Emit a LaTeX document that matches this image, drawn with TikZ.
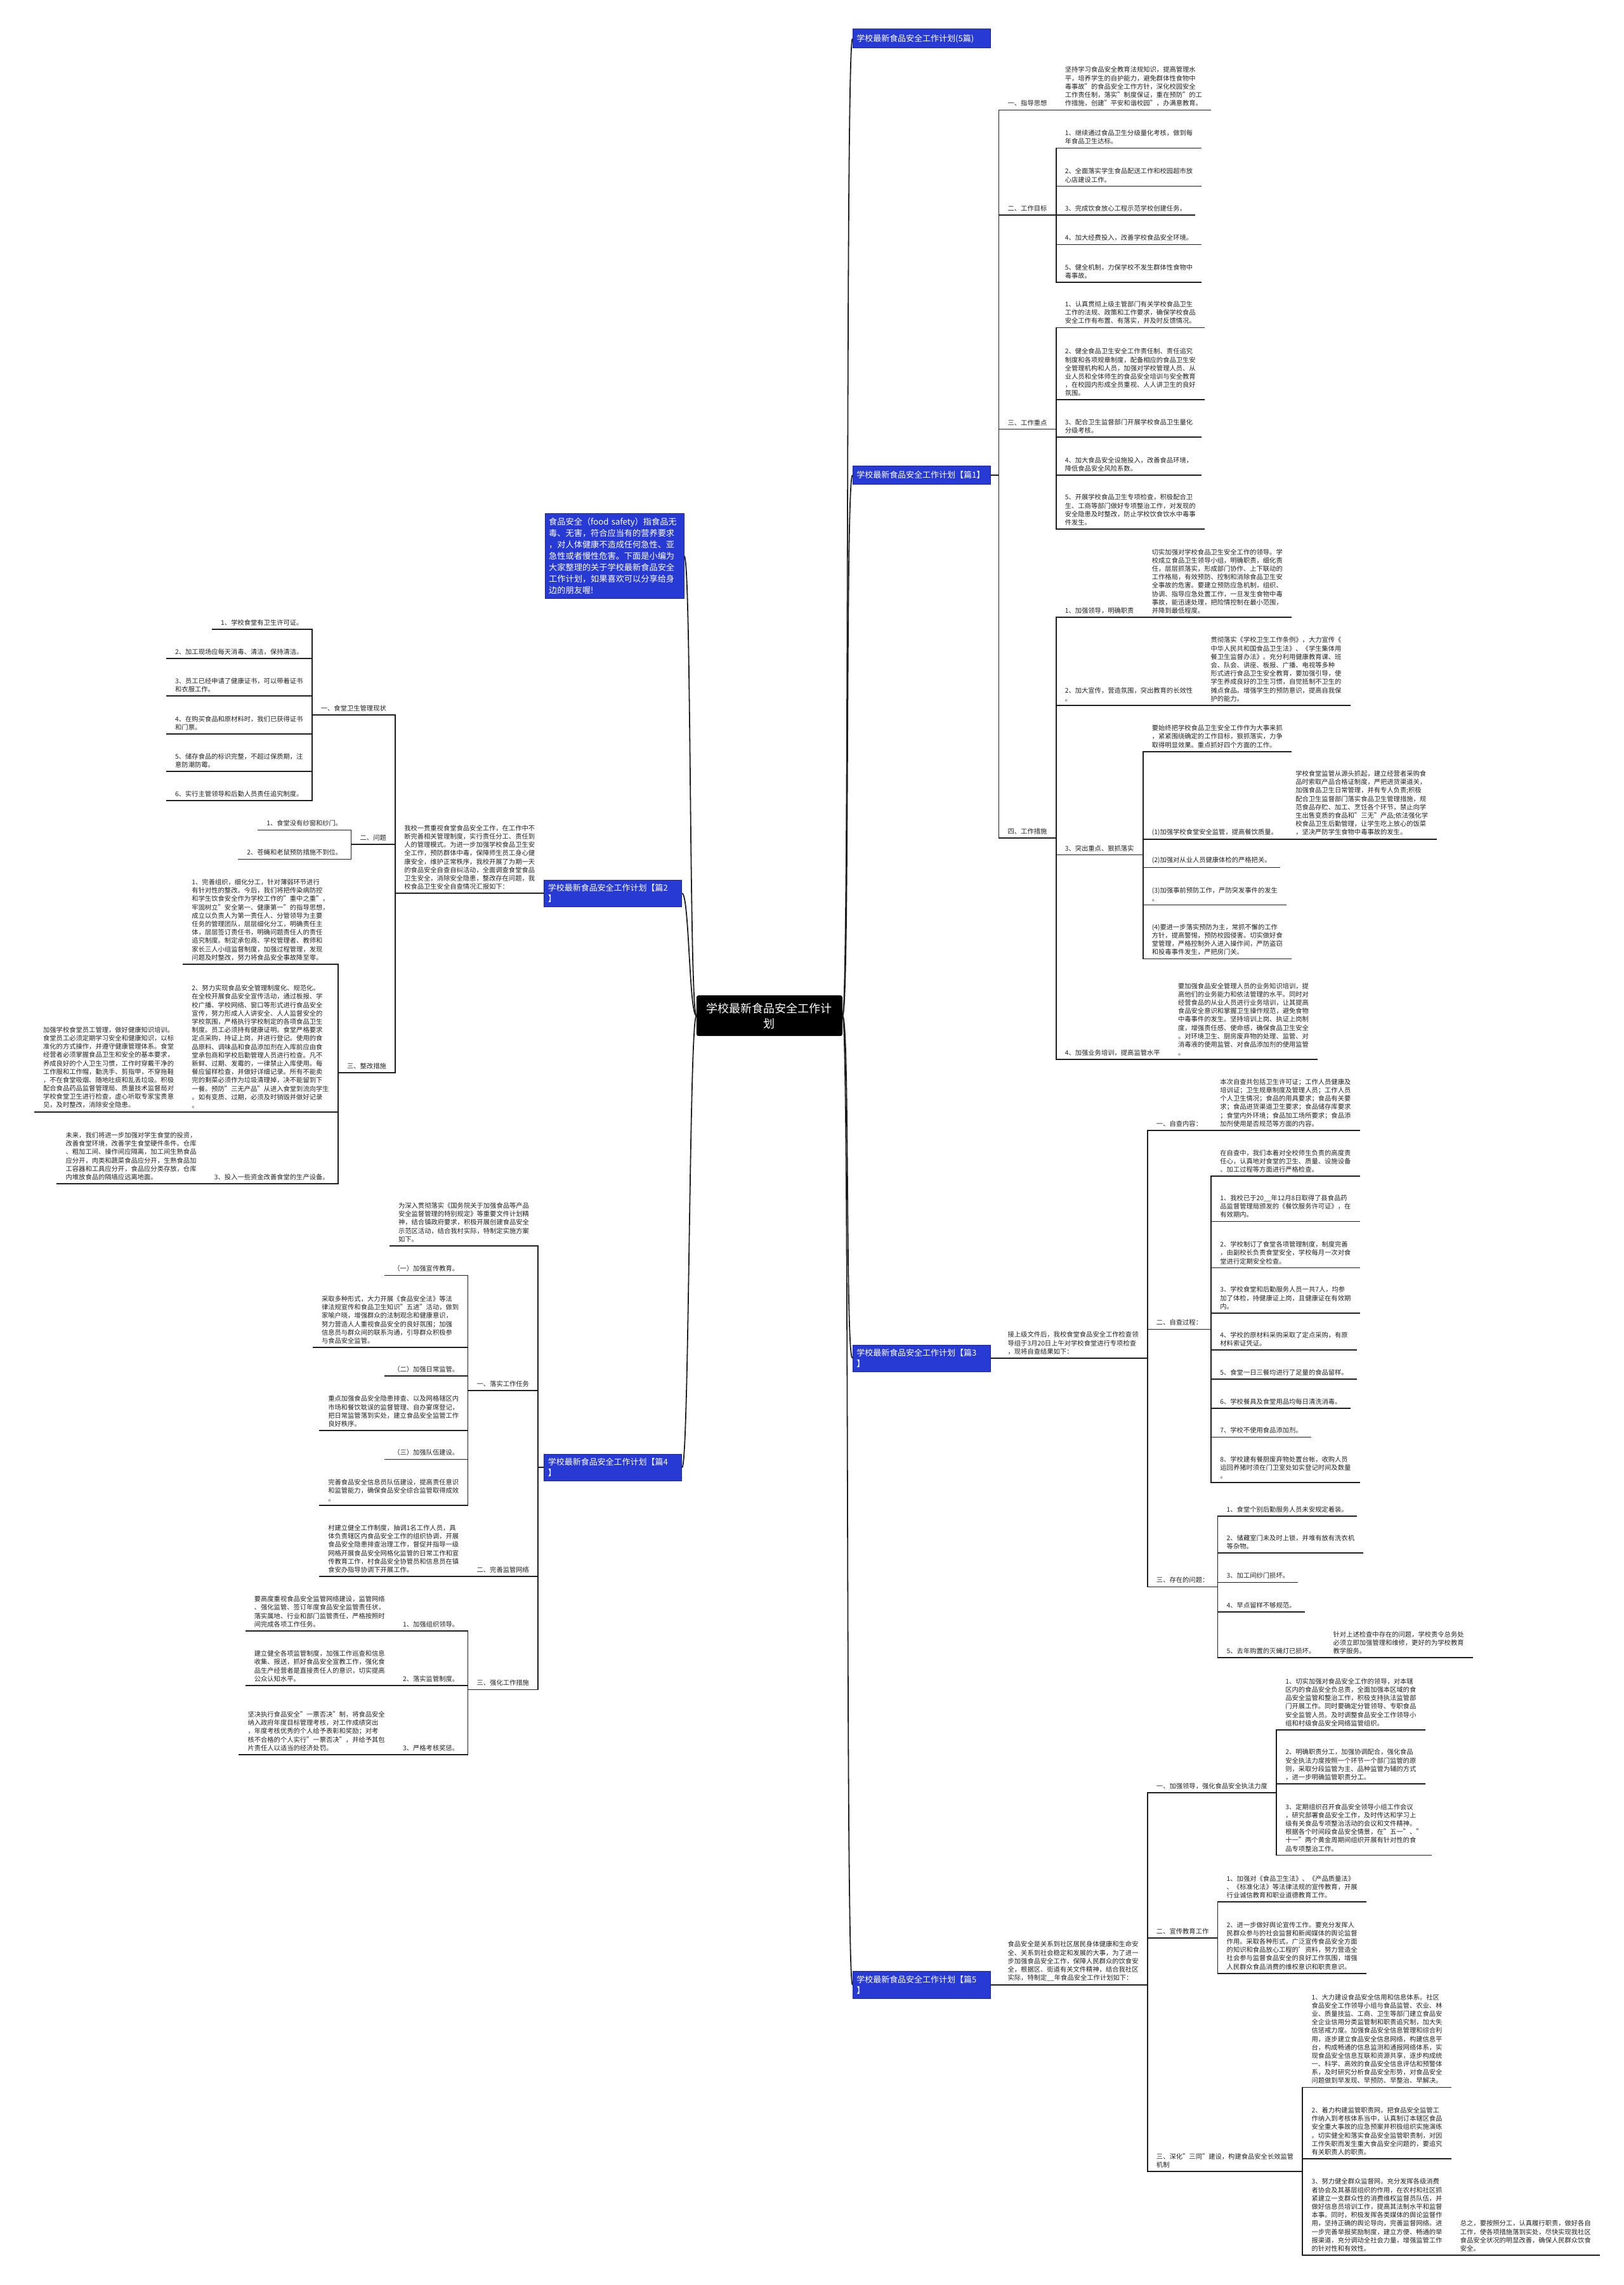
\documentclass[tikz,border=0pt]{standalone}
\usepackage{fontspec}
\setmainfont{Noto Sans CJK SC}
\usetikzlibrary{calc}
\definecolor{secblue}{RGB}{40,58,212}
\definecolor{secline}{RGB}{28,40,160}
\definecolor{lncol}{RGB}{30,30,30}
\definecolor{txcol}{RGB}{34,34,34}
\tikzset{
  tx/.style={font=\fontsize{10.3}{13.2}\selectfont, align=left, inner xsep=14pt, inner ysep=5.5pt, text=txcol},
  R/.style={tx, anchor=south west},
  L/.style={tx, anchor=south east},
  sec/.style={fill=secblue, draw=secline, line width=0.8pt, text=white, font=\fontsize{13}{17}\selectfont, align=left, text width=205pt, inner xsep=6pt, inner ysep=6.5pt, minimum height=30pt},
  introbox/.style={fill=secblue, draw=secline, line width=0.8pt, text=white, font=\fontsize{13.2}{18}\selectfont, align=left, text width=207pt, inner xsep=6pt, inner ysep=7pt},
  root/.style={fill=black, text=white, font=\fontsize{18}{24}\selectfont, align=center, text width=205pt, minimum width=230pt, minimum height=64pt, rounded corners=3pt},
  ln/.style={draw=lncol, line width=1.8pt},
}
\newcommand\mmR[2]{\draw[ln] (#1.south east) -| (#2.south west) -- (#2.south east);}
\newcommand\mmL[2]{\draw[ln] (#1.south west) -| (#2.south east) -- (#2.south west);}
\newcommand\mmS[2]{\draw[ln] (#1.east) -| (#2.south west) -- (#2.south east);}
\newcommand\mmT[2]{\draw[ln] (#1.west) -| (#2.south east) -- (#2.south west);}
\begin{document}
\begin{tikzpicture}[x=2.29803pt, y=-2.29803pt]
\useasboundingbox (0,0) rectangle (1114,1568);
\fill[white] (0,0) rectangle (1114,1568);

% ---------------- root and sections
\node[root] (root) at (528,697) {学校最新食品安全工作计\\划};
\node[sec, anchor=west] (S0) at (585,26.5) {学校最新食品安全工作计划(5篇)};
\node[sec, anchor=west] (S1) at (585,326) {学校最新食品安全工作计划【篇1】};
\node[sec, anchor=west] (S3) at (585,932) {学校最新食品安全工作计划【篇3\\】};
\node[sec, anchor=west] (S5) at (585,1362) {学校最新食品安全工作计划【篇5\\】};
\node[introbox, anchor=east] (I0) at (469.5,381.5) {\mbox{食品安全（food~safety）指食品无}\\毒、无害，符合应当有的营养要求\\，对人体健康不造成任何急性、亚\\急性或者慢性危害。下面是小编为\\大家整理的关于学校最新食品安全\\工作计划，如果喜欢可以分享给身\\边的朋友喔!};
\node[sec, anchor=east] (S2) at (468,613) {学校最新食品安全工作计划【篇2\\】};
\node[sec, anchor=east] (S4) at (468,1007) {学校最新食品安全工作计划【篇4\\】};

\foreach \s in {S0,S1,S3,S5} \draw[ln] (root.east) .. controls +(5,0) and +(-5,0) .. (\s.west);
\foreach \s in {I0,S2,S4} \draw[ln] (root.west) .. controls +(-5,0) and +(5,0) .. (\s.east);

% ---------------- 篇1
\coordinate (p1) at ($(S1.east)+(5.6,0)$);
\node[R] (a1) at (p1 |- 0,75.5) {一、指导思想};
\node[R] (a1c) at (a1.south east) {坚持学习食品安全教育法规知识，提高管理水\\平，培养学生的自护能力，避免群体性食物中\\毒事故"的食品安全工作方针，深化校园安全\\工作责任制，落实"制度保证，重在预防"的工\\作措施，创建"平安和谐校园"，办满意教育。};
\mmS{S1}{a1}\mmR{a1}{a1c}

\node[R] (a2) at (p1 |- 0,147.5) {二、工作目标};
\mmS{S1}{a2}
\node[R] (a2c1) at (a2.south east |- 0,101.6) {1、继续通过食品卫生分级量化考核，做到每\\年食品卫生达标。};
\node[R] (a2c2) at (a2.south east |- 0,127.8) {2、全面落实学生食品配送工作和校园超市放\\心店建设工作。};
\node[R] (a2c3) at (a2.south east |- 0,147.5) {3、完成饮食放心工程示范学校创建任务。};
\node[R] (a2c4) at (a2.south east |- 0,167.8) {4、加大经费投入，改善学校食品安全环境。};
\node[R] (a2c5) at (a2.south east |- 0,193.7) {5、健全机制，力保学校不发生群体性食物中\\毒事故。};
\foreach \c in {a2c1,a2c2,a2c3,a2c4,a2c5} {\mmR{a2}{\c}}

\node[R] (a3) at (p1 |- 0,294.5) {三、工作重点};
\mmS{S1}{a3}
\node[R] (a3c1) at (a3.south east |- 0,224.8) {1、认真贯彻上级主管部门有关学校食品卫生\\工作的法规、政策和工作要求，确保学校食品\\安全工作有布置、有落实，并及时反馈情况。};
\node[R] (a3c2) at (a3.south east |- 0,274.4) {2、健全食品卫生安全工作责任制、责任追究\\制度和各项规章制度，配备相应的食品卫生安\\全管理机构和人员，加强对学校管理人员、从\\业人员和全体师生的食品安全培训与安全教育\\，在校园内形成全员重视、人人讲卫生的良好\\氛围。};
\node[R] (a3c3) at (a3.south east |- 0,300) {3、配合卫生监督部门开展学校食品卫生量化\\分级考核。};
\node[R] (a3c4) at (a3.south east |- 0,326.1) {4、加大食品安全设施投入，改善食品环境，\\降低食品安全风险系数。};
\node[R] (a3c5) at (a3.south east |- 0,363.1) {5、开展学校食品卫生专项检查，积极配合卫\\生、工商等部门做好专项整治工作，对发现的\\安全隐患及时整改，防止学校饮食饮水中毒事\\件发生。};
\foreach \c in {a3c1,a3c2,a3c3,a3c4,a3c5} {\mmR{a3}{\c}}

\node[R] (a4) at (p1 |- 0,575) {四、工作措施};
\mmS{S1}{a4}
\node[R] (d1) at (a4.south east |- 0,423.6) {1、加强领导，明确职责};
\node[R] (d1c) at (d1.south east) {切实加强对学校食品卫生安全工作的领导。学\\校成立食品卫生领导小组，明确职责，细化责\\任，层层抓落实，形成部门协作、上下联动的\\工作格局，有效预防、控制和消除食品卫生安\\全事故的危害。要建立预防应急机制，组织、\\协调、指导应急处置工作，一旦发生食物中毒\\事故，能迅速处理，把险情控制在最小范围，\\并降到最低程度。};
\node[R] (d2) at (a4.south east |- 0,484) {2、加大宣传，营造氛围，突出教育的长效性\\。};
\node[R] (d2c) at (d2.south east) {贯彻落实《学校卫生工作条例》，大力宣传《\\中华人民共和国食品卫生法》、《学生集体用\\餐卫生监督办法》。充分利用健康教育课、班\\会、队会、讲座、板报、广播、电视等多种\\形式进行食品卫生安全教育，要加强引导，使\\学生养成良好的卫生习惯，自觉抵制不卫生的\\摊点食品。增强学生的预防意识，提高自我保\\护的能力。};
\node[R] (d3) at (a4.south east |- 0,586.6) {3、突出重点、狠抓落实};
\node[R] (e0) at (d3.south east |- 0,515.7) {要始终把学校食品卫生安全工作作为大事来抓\\，紧紧围绕确定的工作目标，狠抓落实，力争\\取得明显效果。重点抓好四个方面的工作。};
\node[R] (e1) at (d3.south east |- 0,575.8) {(1)加强学校食堂安全监管，提高餐饮质量。};
\node[R] (e1c) at (e1.south east) {学校食堂监管从源头抓起，建立经营者采购食\\品时索取产品合格证制度，严把进货渠道关，\\加强食品卫生日常管理，并有专人负责;积极\\配合卫生监督部门落实食品卫生管理措施，规\\范食品存贮、加工、烹饪各个环节，禁止向学\\生出售变质的食品和"三无"产品;依法强化学\\校食品卫生后勤管理，让学生吃上放心的饭菜\\，坚决严防学生食物中毒事故的发生。};
\node[R] (e2) at (d3.south east |- 0,595.3) {(2)加强对从业人员健康体检的严格把关。};
\node[R] (e3) at (d3.south east |- 0,621) {(3)加强事前预防工作，严防突发事件的发生\\。};
\node[R] (e4) at (d3.south east |- 0,658) {(4)要进一步落实预防为主，常抓不懈的工作\\方针，提高警惕，预防校园侵害。切实做好食\\堂管理，严格控制外人进入操作间，严防盗窃\\和投毒事件发生，严把房门关。};
\node[R] (d4) at (a4.south east |- 0,727) {4、加强业务培训，提高监管水平};
\node[R] (d4c) at (d4.south east) {要加强食品安全管理人员的业务知识培训，提\\高他们的业务能力和依法管理的水平。同时对\\经营食品的从业人员进行业务培训，让其提高\\食品安全意识和掌握卫生操作规范，避免食物\\中毒事件的发生。坚持培训上岗、执证上岗制\\度，增强责任感、使命感，确保食品卫生安全\\。对环境卫生、厨房废弃物的处理、监管、对\\消毒液的使用监管、对食品添加剂的使用监管\\。};
\foreach \c in {d1,d2,d3,d4} {\mmR{a4}{\c}}
\mmR{d1}{d1c}\mmR{d2}{d2c}\mmR{d4}{d4c}
\foreach \c in {e0,e1,e2,e3,e4} {\mmR{d3}{\c}}
\mmR{e1}{e1c}

% ---------------- 篇3
\coordinate (p3) at ($(S3.east)+(5.6,0)$);
\node[R] (b0) at (p3 |- 0,932) {接上级文件后，我校食堂食品安全工作检查领\\导组于3月20日上午对学校食堂进行专项检查\\，现将自查结果如下：};
\mmS{S3}{b0}
\node[R] (b1) at (b0.south east |- 0,775.7) {一、自查内容：};
\node[R] (b1c) at (b1.south east) {本次自查共包括卫生许可证；工作人员健康及\\培训证；卫生规章制度及管理人员；工作人员\\个人卫生情况；食品的用具要求；食品有关要\\求；食品进货渠道卫生要求；食品储存库要求\\；食堂内外环境；食品加工场所要求；食品添\\加剂使用是否规范等方面的内容。};
\node[R] (b2) at (b0.south east |- 0,912.2) {二、自查过程：};
\node[R] (b2c0) at (b2.south east |- 0,807.1) {在自查中，我们本着对全校师生负责的高度责\\任心，认真地对食堂的卫生、质量、设施设备\\、加工过程等方面进行严格检查。};
\node[R] (b2c1) at (b2.south east |- 0,838.2) {1、我校已于20\_\_年12月8日取得了县食品药\\品监督管理局颁发的《餐饮服务许可证》，在\\有效期内。};
\node[R] (b2c2) at (b2.south east |- 0,870) {2、学校制订了食堂各项管理制度，制度完善\\，由副校长负责食堂安全，学校每月一次对食\\堂进行定期安全检查。};
\node[R] (b2c3) at (b2.south east |- 0,901) {3、学校食堂和后勤服务人员一共7人，均参\\加了体检，持健康证上岗，且健康证在有效期\\内。};
\node[R] (b2c4) at (b2.south east |- 0,926.3) {4、学校的原材料采购采取了定点采购，有原\\材料索证凭证。};
\node[R] (b2c5) at (b2.south east |- 0,946.3) {5、食堂一日三餐均进行了足量的食品留样。};
\node[R] (b2c6) at (b2.south east |- 0,966.3) {6、学校餐具及食堂用品均每日清洗消毒。};
\node[R] (b2c7) at (b2.south east |- 0,986.2) {7、学校不使用食品添加剂。};
\node[R] (b2c8) at (b2.south east |- 0,1017.4) {8、学校建有餐厨废弃物处置台帐，收购人员\\运回养猪时须在门卫室处如实登记时间及数量\\。};
\node[R] (b3) at (b0.south east |- 0,1088.9) {三、存在的问题：};
\node[R] (b3c1) at (b3.south east |- 0,1040.3) {1、食堂个别后勤服务人员未安规定着装。};
\node[R] (b3c2) at (b3.south east |- 0,1065.8) {2、储藏室门未及时上锁，并堆有放有洗衣机\\等杂物。};
\node[R] (b3c3) at (b3.south east |- 0,1085.9) {3、加工间纱门损坏。};
\node[R] (b3c4) at (b3.south east |- 0,1106) {4、早点留样不够规范。};
\node[R] (b3c5) at (b3.south east |- 0,1137.5) {5、去年购置的灭蝇灯已损坏。};
\node[R] (b3c5c) at (b3c5.south east) {针对上述检查中存在的问题，学校责令总务处\\必须立即加强管理和维修，更好的为学校教育\\教学服务。};
\foreach \c in {b1,b2,b3} {\mmR{b0}{\c}}
\mmR{b1}{b1c}
\foreach \c in {b2c0,b2c1,b2c2,b2c3,b2c4,b2c5,b2c6,b2c7,b2c8} {\mmR{b2}{\c}}
\foreach \c in {b3c1,b3c2,b3c3,b3c4,b3c5} {\mmR{b3}{\c}}
\mmR{b3c5}{b3c5c}

% ---------------- 篇5
\coordinate (p5) at ($(S5.east)+(5.6,0)$);
\node[R] (f0) at (p5 |- 0,1362) {食品安全是关系到社区居民身体健康和生命安\\全、关系到社会稳定和发展的大事，为了进一\\步加强食品安全工作，保障人民群众的饮食安\\全，根据区、街道有关文件精神，结合我社区\\实际，特制定\_\_年食品安全工作计划如下：};
\mmS{S5}{f0}
\node[R] (f1) at (f0.south east |- 0,1230.1) {一、加强领导，强化食品安全执法力度};
\node[R] (f1c1) at (f1.south east |- 0,1187) {1、切实加强对食品安全工作的领导，对本辖\\区内的食品安全负总责，全面加强本区域的食\\品安全监管和整治工作，积极支持执法监管部\\门开展工作。同时要确定分管领导、专职食品\\安全监管人员。及时调整食品安全工作领导小\\组和村级食品安全网络监管组织。};
\node[R] (f1c2) at (f1.south east |- 0,1224.2) {2、明确职责分工，加强协调配合，强化食品\\安全执法力度按照一个环节一个部门监管的原\\则，采取分段监管为主、品种监管为辅的方式\\，进一步明确监管职责分工。};
\node[R] (f1c3) at (f1.south east |- 0,1273.1) {3、定期组织召开食品安全领导小组工作会议\\，研究部署食品安全工作，及时传达和学习上\\级有关食品专项整治活动的会议和文件精神。\\根据各个时间段食品安全情景，在"五一"、"\\十一"两个黄金周期间组织开展有针对性的食\\品专项整治工作。};
\node[R] (f2) at (f0.south east |- 0,1329.7) {二、宣传教育工作};
\node[R] (f2c1) at (f2.south east |- 0,1305.1) {1、加强对《食品卫生法》、《产品质量法》\\、《标准化法》等法律法规的宣传教育，开展\\行业诚信教育和职业道德教育工作。};
\node[R] (f2c2) at (f2.south east |- 0,1354.1) {2、进一步做好舆论宣传工作。要充分发挥人\\民群众参与的社会监督和新闻媒体的舆论监督\\作用。采取各种形式，广泛宣传食品安全方面\\的知识和食品放心工程的'资料，努力营造全\\社会参与监督食品安全的良好工作氛围，增强\\人民群众食品消费的维权意识和职责意识。};
\node[R] (f3) at (f0.south east |- 0,1490) {三、深化"三同"建设，构建食品安全长效监管\\机制};
\node[R] (f3c1) at (f3.south east |- 0,1432.4) {1、大力建设食品安全信用和信息体系。社区\\食品安全工作领导小组与食品监管、农业、林\\业、质量技监、工商、卫生等部门建立食品安\\全企业信用分类监管制和职责追究制，加大失\\信惩戒力度。加强食品安全信息管理和综合利\\用，逐步建立食品安全信息网络，构建信息平\\台，构成畅通的信息监测和通报网络体系，实\\现食品安全信息互联和资源共享，逐步构成统\\一、科学、高效的食品安全信息评估和预警体\\系，及时研究分析食品安全形势，对食品安全\\问题做到早发现、早预防、早整治、早解决。};
\node[R] (f3c2) at (f3.south east |- 0,1481.4) {2、着力构建监管职责网。把食品安全监管工\\作纳入到考核体系当中，认真制订本辖区食品\\安全重大事故的应急预案并积极组织实施演练\\。切实健全和落实食品安全监管职责制，对因\\工作失职而发生重大食品安全问题的，要追究\\有关职责人的职责。};
\node[R] (f3c3) at (f3.south east |- 0,1547.5) {3、努力健全群众监督网。充分发挥各级消费\\者协会及其基层组织的作用，在农村和社区抓\\紧建立一支群众性的消费维权监督员队伍，并\\做好信息员培训工作，提高其法制水平和监督\\本事。同时，积极发挥各类媒体的舆论监督作\\用，坚持正确的舆论导向，完善监督网络。进\\一步完善举报奖励制度，建立方便、畅通的举\\报渠道，充分调动全社会力量，增强监管工作\\的针对性和有效性。};
\node[R] (f3c3c) at (f3c3.south east) {总之，要按照分工，认真履行职责，做好各自\\工作，使各项措施落到实处，尽快实现我社区\\食品安全状况的明显改善，确保人民群众饮食\\安全。};
\foreach \c in {f1,f2,f3} {\mmR{f0}{\c}}
\foreach \c in {f1c1,f1c2,f1c3} {\mmR{f1}{\c}}
\foreach \c in {f2c1,f2c2} {\mmR{f2}{\c}}
\foreach \c in {f3c1,f3c2,f3c3} {\mmR{f3}{\c}}
\mmR{f3c3}{f3c3c}

% ---------------- 篇2
\node[L] (h0) at (S2.west) {我校一贯重视食堂食品安全工作，在工作中不\\断完善相关管理制度，实行责任分工、责任到\\人的管理模式。为进一步加强学校食品卫生安\\全工作，预防群体中毒，保障师生员工身心健\\康安全，维护正常秩序，我校开展了为期一天\\的食品安全自查自纠活动，全面调查食堂食品\\卫生安全，消除安全隐患，整改存在问题，我\\校食品卫生安全自查情况汇报如下：};
\mmT{S2}{h0}
\node[L] (h1) at (h0.south west |- 0,490.7) {一、食堂卫生管理现状};
\node[L] (h1c1) at (h1.south west |- 0,431.8) {1、学校食堂有卫生许可证。};
\node[L] (h1c2) at (h1.south west |- 0,452) {2、加工现场应每天消毒、清洁，保持清洁。};
\node[L] (h1c3) at (h1.south west |- 0,477.7) {3、员工已经申请了健康证书，可以带着证书\\和衣服工作。};
\node[L] (h1c4) at (h1.south west |- 0,503.6) {4、在购买食品和原材料时，我们已获得证书\\和门票。};
\node[L] (h1c5) at (h1.south west |- 0,529.4) {5、储存食品的标识完整，不超过保质期，注\\意防潮防霉。};
\node[L] (h1c6) at (h1.south west |- 0,549.5) {6、实行主管领导和后勤人员责任追究制度。};
\node[L] (h2) at (h0.south west |- 0,579.5) {二、问题};
\node[L] (h2c1) at (h2.south west |- 0,569.6) {1、食堂没有纱窗和纱门。};
\node[L] (h2c2) at (h2.south west |- 0,589.6) {2、苍蝇和老鼠预防措施不到位。};
\node[L] (h3) at (h0.south west |- 0,736) {三、整改措施};
\node[L] (h3c1) at (h3.south west |- 0,661.7) {1、完善组织，细化分工，针对薄弱环节进行\\有针对性的整改。今后，我们将把传染病防控\\和学生饮食安全作为学校工作的"重中之重"，\\牢固树立"安全第一、健康第一"的指导思想，\\成立以负责人为第一责任人、分管领导为主要\\任务的管理团队，层层细化分工，明确责任主\\体，层层签订责任书，明确问题责任人的责任\\追究制度。制定承包商、学校管理者、教师和\\家长三人小组监督制度，加强过程管理，发现\\问题及时整改，努力将食品安全事故降至零。};
\node[L] (h3c2) at (h3.south west |- 0,763) {2、努力实现食品安全管理制度化、规范化。\\在全校开展食品安全宣传活动，通过板报、学\\校广播、学校网络、窗口等形式进行食品安全\\宣传，努力形成人人讲安全、人人监督安全的\\学校氛围，严格执行学校制定的各项食品卫生\\制度。员工必须持有健康证明。食堂严格要求\\定点采购，持证上岗，并进行登记。使用的食\\品原料、调味品和食品添加剂在入库前应由食\\堂承包商和学校后勤管理人员进行检查。凡不\\新鲜、过期、发霉的，一律禁止入库使用。每\\餐应留样检查，并做好详细记录。所有不能卖\\完的剩菜必须作为垃圾清理掉，决不能留到下\\一餐。预防"三无产品"从进入食堂到流向学生\\。如有变质、过期，必须及时销毁并做好记录\\。};
\node[L] (h3c2c) at (h3c2.south west) {加强学校食堂员工管理，做好健康知识培训。\\食堂员工必须定期学习安全和健康知识，以标\\准化的方式操作，并遵守健康管理体系。食堂\\经营者必须掌握食品卫生和安全的基本要求，\\养成良好的个人卫生习惯，工作时穿戴干净的\\工作服和工作帽，勤洗手、剪指甲，不穿拖鞋\\，不在食堂吸烟、随地吐痰和乱丢垃圾。积极\\配合食品药品监督管理局、质量技术监督局对\\学校食堂卫生进行检查，虚心听取专家宝贵意\\见，及时整改，消除安全隐患。};
\node[L] (h3c3) at (h3.south west |- 0,812.3) {3、投入一些资金改善食堂的生产设备。};
\node[L] (h3c3c) at (h3c3.south west) {未来，我们将进一步加强对学生食堂的投资，\\改善食堂环境，改善学生食堂硬件条件。仓库\\、粗加工间、操作间应隔离，加工间生熟食品\\应分开，肉类和蔬菜食品应分开，生熟食品加\\工容器和工具应分开，食品应分类存放，仓库\\内堆放食品的隔墙应远离地面。};
\foreach \c in {h1,h2,h3} {\mmL{h0}{\c}}
\foreach \c in {h1c1,h1c2,h1c3,h1c4,h1c5,h1c6} {\mmL{h1}{\c}}
\foreach \c in {h2c1,h2c2} {\mmL{h2}{\c}}
\foreach \c in {h3c1,h3c2,h3c3} {\mmL{h3}{\c}}
\mmL{h3c2}{h3c2c}\mmL{h3c3}{h3c3c}

% ---------------- 篇4
\coordinate (p4) at ($(S4.west)+(-4,0)$);
\node[L] (k0) at (p4 |- 0,854.9) {为深入贯彻落实《国务院关于加强食品等产品\\安全监督管理的特别规定》等重要文件计划精\\神，结合镇政府要求，积极开展创建食品安全\\示范区活动，结合我村实际，特制定实施方案\\如下。};
\node[L] (k1) at (p4 |- 0,954.3) {一、落实工作任务};
\node[L] (k1c1) at (k1.south west |- 0,875.2) {（一）加强宣传教育。};
\node[L] (k1c2) at (k1.south west |- 0,924.6) {采取多种形式，大力开展《食品安全法》等法\\律法规宣传和食品卫生知识"五进"活动，做到\\家喻户晓，增强群众的法制观念和健康意识，\\努力营造人人重视食品安全的良好氛围；加强\\信息员与群众间的联系沟通，引导群众积极参\\与食品安全监管。};
\node[L] (k1c3) at (k1.south west |- 0,944.3) {（二）加强日常监管。};
\node[L] (k1c4) at (k1.south west |- 0,981.6) {重点加强食品安全隐患排查、以及网格辖区内\\市场和餐饮耽误的监督管理、自办宴席登记，\\把日常监管落到实处，建立食品安全监管工作\\良好秩序。};
\node[L] (k1c5) at (k1.south west |- 0,1001.4) {（三）加强队伍建设。};
\node[L] (k1c6) at (k1.south west |- 0,1032.9) {完善食品安全信息员队伍建设，提高责任意识\\和监管能力，确保食品安全综合监管取得成效\\。};
\node[L] (k2) at (p4 |- 0,1081.8) {二、完善监管网络};
\node[L] (k2c) at (k2.south west) {村建立健全工作制度，抽调1名工作人员，具\\体负责辖区内食品安全工作的组织协调，开展\\食品安全隐患排查治理工作，督促并指导一级\\网格开展食品安全网格化监管的日常工作和宣\\传教育工作，村食品安全协管员和信息员在镇\\食安办指导协调下开展工作。};
\node[L] (k3) at (p4 |- 0,1159.4) {三、强化工作措施};
\node[L] (k3c1) at (k3.south west |- 0,1119.1) {1、加强组织领导。};
\node[L] (k3c1c) at (k3c1.south west) {要高度重视食品安全监管网络建设，监管网络\\、强化监管、签订年度食品安全监管责任状，\\落实属地、行业和部门监管责任，严格按照时\\间完成各项工作任务。};
\node[L] (k3c2) at (k3.south west |- 0,1156.5) {2、落实监管制度。};
\node[L] (k3c2c) at (k3c2.south west) {建立健全各项监管制度，加强工作巡查和信息\\收集、报送，抓好食品安全宣教工作，强化食\\品生产经营者是直接责任人的意识，切实提高\\公众认知水平。};
\node[L] (k3c3) at (k3.south west |- 0,1204) {3、严格考核奖惩。};
\node[L] (k3c3c) at (k3c3.south west) {坚决执行食品安全"一票否决"制，将食品安全\\纳入政府年度目标管理考核，对工作成绩突出\\，年度考核优秀的个人给予表彰和奖励；对考\\核不合格的个人实行"一票否决"，并给予其包\\片责任人以适当的经济处罚。};
\foreach \c in {k0,k1,k2,k3} {\mmT{S4}{\c}}
\foreach \c in {k1c1,k1c2,k1c3,k1c4,k1c5,k1c6} {\mmL{k1}{\c}}
\mmL{k2}{k2c}
\foreach \c in {k3c1,k3c2,k3c3} {\mmL{k3}{\c}}
\mmL{k3c1}{k3c1c}\mmL{k3c2}{k3c2c}\mmL{k3c3}{k3c3c}
\end{tikzpicture}
\end{document}
